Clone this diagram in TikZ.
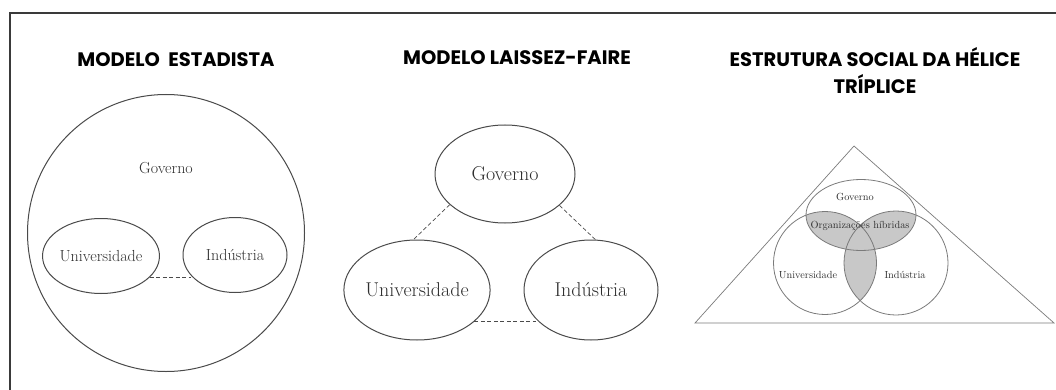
\documentclass[tikz,border=0pt]{standalone}
\usepackage{fontspec}
\newfontfamily\titlefont{Poppins}
\usetikzlibrary{positioning}
\usetikzlibrary{shapes.geometric}

\definecolor{framegray}{HTML}{3A3A3A}
\definecolor{linegray}{HTML}{4A4A4A}
\definecolor{venngray}{HTML}{7A7A7A}
\definecolor{textgray}{HTML}{2E2E2E}
\definecolor{hybridfill}{HTML}{C8C8C8}

\begin{document}
\begin{tikzpicture}
		[x=1pt, y=-1pt,
		title/.style={font=\titlefont\bfseries\fontsize{19.5}{27}\selectfont, align=center},
		actor/.style={ellipse, draw=linegray, line width=1pt, inner sep=0pt},
		label/.style={text=textgray},
		link/.style={draw=linegray, dash pattern=on 4pt off 2.5pt, line width=0.7pt}]
		\useasboundingbox (0,0) rectangle (1056,390);
		\draw[framegray, line width=1.3pt] (10,390) -- (10,13) -- (1056,13);

		% modelo estadista
		\node[title] (t1) at (176,60) {MODELO\ \ ESTADISTA};
		\node[circle, draw=linegray, line width=1pt, minimum size=277pt] (gov1) at (166,233) {};
		\node[label, font=\fontsize{16}{18}\selectfont] (gl1) at (166,168) {Governo};
		\node[actor, minimum width=105pt, minimum height=75pt, label, font=\fontsize{16}{18}\selectfont] (uni1) at (101,256) {Universidade};
		\node[actor, minimum width=104pt, minimum height=75pt, label, font=\fontsize{16}{18}\selectfont] (ind1) at (235,255) {Indústria};
		\draw[link] (uni1.-24) -- (uni1.-24 -| ind1.-154);

		% modelo laissez-faire
		\node[title] (t2) at (517,58) {MODELO LAISSEZ-FAIRE};
		\node[actor, minimum width=140pt, minimum height=98pt, label, font=\fontsize{20}{22}\selectfont] (gov2) at (505,174) {Governo};
		\node[actor, minimum width=145pt, minimum height=100pt, label, font=\fontsize{20}{22}\selectfont] (uni2) at (417,290) {Universidade};
		\node[actor, minimum width=134pt, minimum height=100pt, label, font=\fontsize{20}{22}\selectfont] (ind2) at (591,290) {Indústria};
		\draw[link] (gov2.-151) -- (uni2.94);
		\draw[link] (gov2.-30) -- (ind2.85);
		\draw[link] (uni2.-29) -- (uni2.-29 -| ind2.-152);

		% helice triplice
		\node[title] (t3) at (875,71) {ESTRUTURA SOCIAL DA HÉLICE\\TRÍPLICE};
		\coordinate (top) at (854,146);
		\coordinate (left) at (695,323);
		\coordinate (right) at (1054,323);
		\coordinate (g3) at (861,215);
		\coordinate (u3) at (825,263);
		\coordinate (i3) at (896,263);
		\begin{scope}
			\clip (g3) ellipse (55 and 35.5);
			\fill[hybridfill] (u3) circle (51.5);
			\fill[hybridfill] (i3) circle (52);
		\end{scope}
		\begin{scope}
			\clip (u3) circle (51.5);
			\fill[hybridfill] (i3) circle (52);
		\end{scope}
		\draw[venngray, line width=0.7pt] (top) -- (left) -- (right) -- cycle;
		\draw[venngray, line width=0.8pt] (g3) ellipse (55 and 35.5);
		\draw[venngray, line width=0.8pt] (u3) circle (51.5);
		\draw[venngray, line width=0.8pt] (i3) circle (52);
		\node[label, font=\fontsize{10.3}{12}\selectfont] (gl3) at (855,197) {Governo};
		\node[label, font=\fontsize{10.3}{12}\selectfont] (hib) at (860,226) {Organizações híbridas};
		\node[label, font=\fontsize{10.3}{12}\selectfont] (ul3) at (808,275) {Universidade};
		\node[label, font=\fontsize{10.3}{12}\selectfont] (il3) at (905,275) {Indústria};
	\end{tikzpicture}
\end{document}
